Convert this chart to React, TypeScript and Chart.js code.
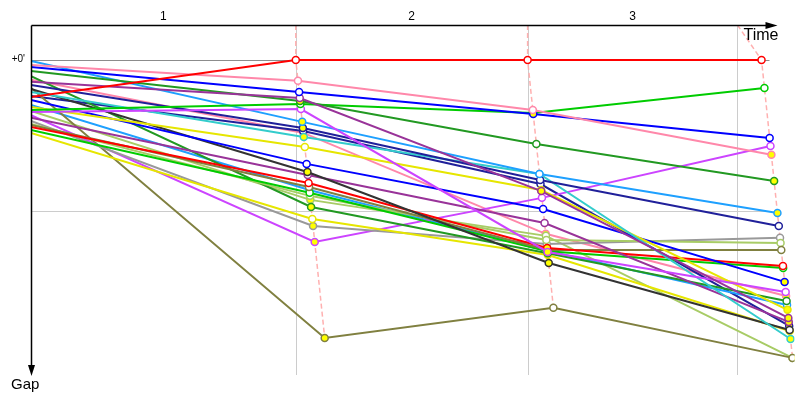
import React, { useEffect, useRef } from 'react';
import { Chart, registerables } from 'chart.js';
Chart.register(...registerables);

// ---- data ----
const lapLabels = ['1', '2', '3'];
// time (s) at which the leader completes each lap
const leaderLapTimes = [1012, 1898, 2792];
// lap boundary grid lines (time, s)
const lapGridTimes = [0, 1012, 1898, 2700];
// gap grid lines (s)
const gapGridValues = [0, 60];
const gapTickLabel = "+0'";

const driverColors = [
  '#ff0000', '#ff88aa', '#0000ff', '#993399', '#229922', '#00cc00', '#cc44ff', '#1ea0ff', '#20209a',
  '#33cccc', '#e6e600', '#0000ff', '#333333', '#993399', '#ff0000', '#808040', '#00cc00', '#a8cc66',
  '#229922', '#e6e600', '#999999', '#cc44ff', '#808040', '#1ea0ff', '#a8cc66', '#20209a', '#ff88aa',
];
const startGaps = [14.7, 2.0, 2.8, 8.7, 4.4, 19.9, 20.7, 0.4, 9.9, 12.7, 18.7, 15.9, 11.5, 23.0, 26.6, 25.8, 27.8, 25.4, 6.4, 29.0, 24.2, 21.9, 11.1, 17.9, 20.3, 14.3, 7.9];
const lap1Gaps = [0, 8.3, 12.7, 15.1, 16.3, 17.5, 19.5, 24.6, 27.0, 30.6, 34.6, 41.3, 44.5, 45.7, 48.9, 50.5, 52.8, 54.0, 58.4, 63.2, 66.0, 72.3, 110.5, 51.7, 55.6, 28.2, 29.0];
const lap2Gaps = [0, 19.9, 21.5, 52.1, 33.4, 21.1, 76.3, 45.3, 47.7, 45.3, 51.7, 59.2, 80.7, 64.8, 74.7, 75.5, 76.0, 71.5, 76.8, 77.5, 73.1, 54.8, 98.5, 75.9, 69.9, 49.3, 69.1];
const lap3Gaps = [0, 37.7, 31.0, 102.5, 48.1, 11.1, 92.2, 60.8, 66.0, 110.9, 99.3, 88.2, 107.3, 104.1, 81.9, 75.5, 82.7, 72.7, 95.8, 107.7, 70.7, 34.2, 118.4, 97.4, 118.4, 105.7, 93.8];

const X_MAX = 2918;
const Y_MIN = -13.9;
const Y_MAX = 125.2;
const FONT = '"Liberation Sans", Arial, sans-serif';

function ranks(gaps: number[]) {
  const idx = gaps.map((g, i) => i).sort((a, b) => gaps[a] - gaps[b] || a - b);
  const r = new Array(gaps.length).fill(0);
  idx.forEach((d, k) => (r[d] = k));
  return r;
}

export default function App() {
  const ref = useRef<HTMLCanvasElement | null>(null);
  useEffect(() => {
    if (!ref.current) return;
    const stages = [startGaps, lap1Gaps, lap2Gaps, lap3Gaps];
    const stageRanks = stages.map(ranks);

    const driverSets = driverColors.map((color, i) => {
      const data = [{ x: 0, y: startGaps[i] }];
      const fills = ['#ffffff'];
      const radii = [0];
      for (let k = 0; k < 3; k++) {
        const g = stages[k + 1][i];
        data.push({ x: leaderLapTimes[k] + g, y: g });
        fills.push(stageRanks[k + 1][i] > stageRanks[k][i] ? '#ffff00' : '#ffffff');
        radii.push(3.5);
      }
      return {
        data,
        borderColor: color,
        borderWidth: 2,
        pointRadius: radii,
        pointBackgroundColor: fills,
        pointBorderColor: color,
        pointBorderWidth: 1.5,
        tension: 0,
      };
    });

    const dashSets = [0, 1, 2].map((k) => {
      const gaps = [...stages[k + 1]].sort((a, b) => a - b);
      return {
        data: [{ x: lapGridTimes[k + 1], y: Y_MIN }, ...gaps.map((g) => ({ x: leaderLapTimes[k] + g, y: g }))],
        borderColor: '#ffb0b0',
        borderDash: [5, 3],
        borderWidth: 1.5,
        pointRadius: 0,
        tension: 0,
      };
    });

    const decor = {
      id: 'decor',
      beforeDatasetsDraw(chart: any) {
        const { ctx, chartArea, scales } = chart;
        const xs = scales.x, ys = scales.y;
        ctx.save();
        ctx.lineWidth = 1;
        lapGridTimes.slice(1).forEach((t) => {
          const px = Math.round(xs.getPixelForValue(t)) + 0.5;
          ctx.strokeStyle = '#cccccc';
          ctx.beginPath();
          ctx.moveTo(px, chartArea.top);
          ctx.lineTo(px, chartArea.bottom);
          ctx.stroke();
        });
        gapGridValues.forEach((g, i) => {
          const py = Math.round(ys.getPixelForValue(g)) + 0.5;
          ctx.strokeStyle = i === 0 ? '#8c8c8c' : '#cccccc';
          ctx.beginPath();
          ctx.moveTo(chartArea.left, py);
          ctx.lineTo(chartArea.right - 25, py);
          ctx.stroke();
        });
        ctx.restore();
      },
      afterDatasetsDraw(chart: any) {
        const { ctx, chartArea, scales } = chart;
        const xs = scales.x, ys = scales.y;
        const L = chartArea.left + 0.5, T = chartArea.top + 0.5;
        ctx.save();
        ctx.strokeStyle = '#000';
        ctx.fillStyle = '#000';
        ctx.lineWidth = 1.5;
        // x axis arrow
        const xEnd = chartArea.right - 17;
        ctx.beginPath();
        ctx.moveTo(L, T);
        ctx.lineTo(xEnd - 8, T);
        ctx.stroke();
        ctx.beginPath();
        ctx.moveTo(xEnd, T);
        ctx.lineTo(xEnd - 12, T - 3.5);
        ctx.lineTo(xEnd - 12, T + 3.5);
        ctx.closePath();
        ctx.fill();
        // y axis arrow
        const yEnd = chartArea.bottom + 1;
        ctx.beginPath();
        ctx.moveTo(L, T);
        ctx.lineTo(L, yEnd - 8);
        ctx.stroke();
        ctx.beginPath();
        ctx.moveTo(L, yEnd);
        ctx.lineTo(L - 3.5, yEnd - 11);
        ctx.lineTo(L + 3.5, yEnd - 11);
        ctx.closePath();
        ctx.fill();
        // lap labels
        ctx.font = `12px ${FONT}`;
        ctx.textAlign = 'center';
        ctx.textBaseline = 'middle';
        lapLabels.forEach((lab, k) => {
          const a = xs.getPixelForValue(lapGridTimes[k]);
          const b = xs.getPixelForValue(lapGridTimes[k + 1]);
          ctx.fillText(lab, (a + b) / 2, chartArea.top - 8);
        });
        // axis titles
        ctx.font = `16px ${FONT}`;
        ctx.textAlign = 'right';
        ctx.fillText('Time', xEnd + 1, chartArea.top + 11);
        ctx.font = `15px ${FONT}`;
        ctx.textAlign = 'left';
        ctx.fillText('Gap', 11, chartArea.bottom + 10);
        // gap tick label
        ctx.font = `10px ${FONT}`;
        ctx.textAlign = 'right';
        ctx.fillText(gapTickLabel, chartArea.left - 6, ys.getPixelForValue(gapGridValues[0]) - 1);
        ctx.restore();
      },
    };

    const chart = new Chart(ref.current, {
      type: 'line',
      data: { datasets: [...driverSets, ...dashSets] as any },
      options: {
        animation: false,
        responsive: false,
        devicePixelRatio: 1,
        layout: { padding: { left: 31, right: 5, top: 25, bottom: 25 } },
        scales: {
          x: { type: 'linear', min: 0, max: X_MAX, display: false },
          y: { type: 'linear', min: Y_MIN, max: Y_MAX, reverse: true, display: false },
        },
        plugins: { legend: { display: false }, tooltip: { enabled: false } },
        elements: { line: { fill: false } },
      },
      plugins: [decor],
    });
    return () => chart.destroy();
  }, []);

  return (
    <div style={{ position: 'fixed', left: 0, top: 0, width: 800, height: 400, background: '#fff' }}>
      <canvas ref={ref} width={800} height={400} style={{ width: 800, height: 400 }} />
    </div>
  );
}
